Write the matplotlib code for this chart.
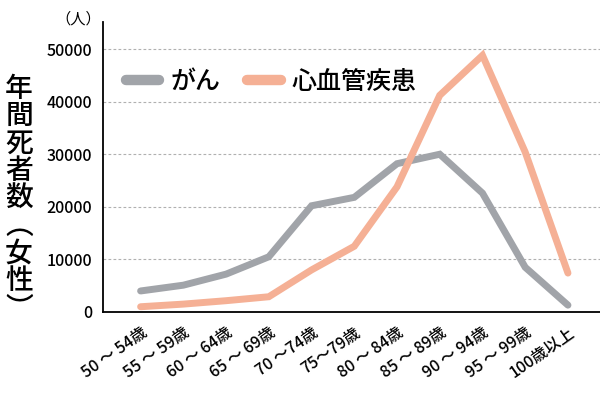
import matplotlib
matplotlib.use("Agg")
import matplotlib.pyplot as plt
from matplotlib.lines import Line2D

plt.rcParams['font.family'] = ['Noto Sans CJK JP', 'DejaVu Sans']

categories = ["50 ～ 54歳", "55 ～ 59歳", "60 ～ 64歳", "65 ～ 69歳", "70 ～74歳",
              "75～79歳", "80 ～ 84歳", "85 ～ 89歳", "90 ～ 94歳", "95 ～ 99歳", "100歳以上"]
cancer = [4000, 5100, 7200, 10500, 20200, 21800, 28200, 30000, 22600, 8500, 1300]
cardio = [1000, 1500, 2150, 2900, 8000, 12500, 23800, 41200, 48800, 30400, 7400]
yticks = [0, 10000, 20000, 30000, 40000, 50000]
series_names = ["がん", "心血管疾患"]

gray = "#a1a4a9"
salmon = "#f5b095"

fig = plt.figure(figsize=(6, 4), dpi=100)
ax = fig.add_axes([103/600, 1-312/400, 1-103/600, (312-21.7)/400])

x = list(range(len(categories)))
ax.plot(x, cancer, color=gray, lw=5, solid_capstyle='round', solid_joinstyle='miter', zorder=3)
ax.plot(x, cardio, color=salmon, lw=5, solid_capstyle='round', solid_joinstyle='miter', zorder=3)

ax.set_xlim(-0.88, 10.75)
ax.set_ylim(0, 55200)
ax.set_yticks(yticks)
ax.set_yticklabels([str(v) for v in yticks], fontsize=11.5, fontweight='medium')
ax.set_xticks(x)
ax.set_xticklabels(categories, fontsize=11.5, fontweight='medium', rotation=35,
                   ha='right', va='top', rotation_mode='anchor')
ax.tick_params(axis='both', length=0)
ax.tick_params(axis='y', pad=8)
ax.tick_params(axis='x', pad=9)

for v in yticks[1:]:
    ax.axhline(v, color='#b0b0b0', lw=0.8, ls=(0, (2.5, 2)), zorder=1)

for s in ['top', 'right']:
    ax.spines[s].set_visible(False)
ax.spines['left'].set_linewidth(1.3)
ax.spines['bottom'].set_linewidth(1.3)

handles = [Line2D([], [], color=gray, lw=7.5, solid_capstyle='round'),
           Line2D([], [], color=salmon, lw=7.5, solid_capstyle='round')]
ax.legend(handles, series_names, loc='upper left', bbox_to_anchor=(0.0, 0.915), ncol=2,
          frameon=False, handlelength=1.35, columnspacing=1.05,
          handletextpad=0.45, borderaxespad=0.5, prop={'size': 18, 'weight': 'medium'})

fig.text(78/600, 1-19/400, "（人）", fontsize=11, ha='center', va='center')

ylabel = "\n".join(["年", "間", "死", "者", "数", "︵", "女", "性", "︶"])
fig.text(19/600, 1-198/400, ylabel, fontsize=20, ha='center', va='center',
         linespacing=0.93, fontweight='medium')

fig.savefig("out.png", dpi=100)
